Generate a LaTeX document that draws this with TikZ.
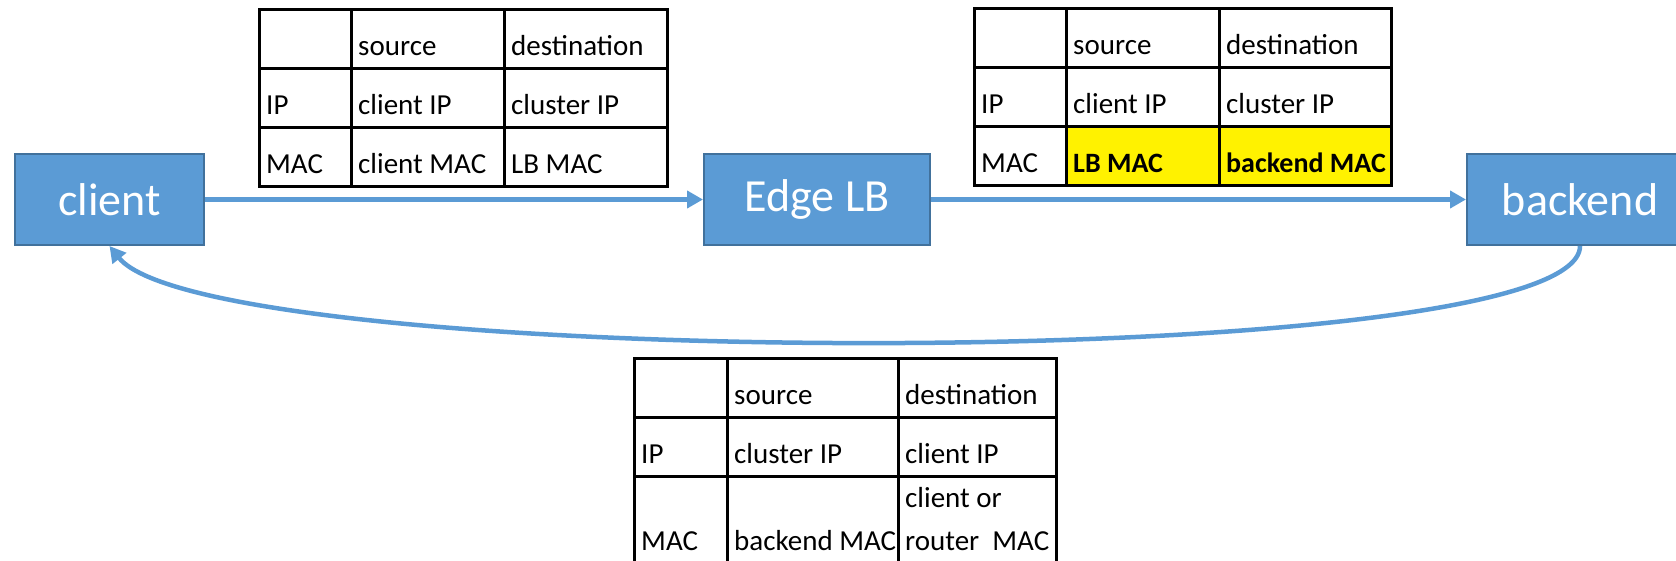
\documentclass[tikz,border=0pt]{standalone}
\usepackage{fontspec}
\setmainfont{Carlito}
\usepackage{tikz}
\usepackage{xcolor}
\usetikzlibrary{matrix,positioning,arrows.meta}
\definecolor{lb-blue}{HTML}{5B9BD5}
\definecolor{lb-edge}{HTML}{41719C}
\tikzset{
    blue-box/.style = {draw=lb-edge, fill=lb-blue, line width=2pt, rectangle, minimum width=226pt, minimum height=91pt, inner sep=0pt, text=white, font=\fontsize{46}{55}\selectfont},
    flow-arrow/.style = {draw=lb-blue, line width=4.5pt, -{Triangle[length=16pt, width=17pt]}},
    packet-table/.style = {matrix of nodes, nodes in empty cells, inner sep=0pt, column sep=-3pt, row sep=-3pt, nodes={packet-cell}},
    packet-cell/.style = {draw, line width=3pt, anchor=center, inner xsep=7pt, inner ysep=0pt, text height=46pt, text depth=13pt, align=flush left, font=\fontsize{29}{43}\selectfont},
    changed-cell/.style = {fill=yellow, font=\fontsize{28}{43}\selectfont\bfseries},
}

\begin{document}
\begin{tikzpicture}[x=1pt, y=-1pt]
\useasboundingbox (0,0) rectangle (1676,561);
\clip (0,0) rectangle (1676,561);

\node[blue-box, minimum width=189pt] (client) at (109.5,199.5) {client};
\node[blue-box, right=498pt of client] (edge-lb) {Edge LB};
\node[blue-box, right=535pt of edge-lb] (backend) {backend};

\matrix[packet-table, anchor=north west,
    column 1/.style={nodes={text width=78pt}},
    column 2/.style={nodes={text width=139pt}},
    column 3/.style={nodes={text width=149pt}}] (pkt-in) at (257.5,7.5) {
    & source & destination \\
    IP & client IP & cluster IP \\
    MAC & client MAC & LB MAC \\
};

\matrix[packet-table, anchor=north west,
    column 1/.style={nodes={text width=78pt}},
    column 2/.style={nodes={text width=139pt}},
    column 3/.style={nodes={text width=158pt}},
    row 3 column 2/.style={nodes={changed-cell}},
    row 3 column 3/.style={nodes={changed-cell}}] (pkt-fwd) at (972.5,6.5) {
    & source & destination \\
    IP & client IP & cluster IP \\
    MAC & LB MAC & \mbox{backend MAC} \\
};

\matrix[packet-table, anchor=north west,
    column 1/.style={nodes={text width=79pt}},
    column 2/.style={nodes={text width=157pt}},
    column 3/.style={nodes={text width=144pt}},
    row 3/.style={nodes={text height=74pt, text depth=16pt}},
    row 3 column 3/.style={nodes={text height=31pt, text depth=59pt}}] (pkt-ret) at (632.5,356.5) {
    & source & destination \\
    IP & cluster IP & client IP \\
    MAC & \mbox{backend MAC} & {client or\\\mbox{router\ \ MAC}} \\
};

\draw[flow-arrow] (client) -- (edge-lb);
\draw[flow-arrow] (edge-lb) -- (backend);
\draw[flow-arrow] (backend.south) .. controls +(0,130) and +(100,125) .. (client.south);
\end{tikzpicture}
\end{document}
